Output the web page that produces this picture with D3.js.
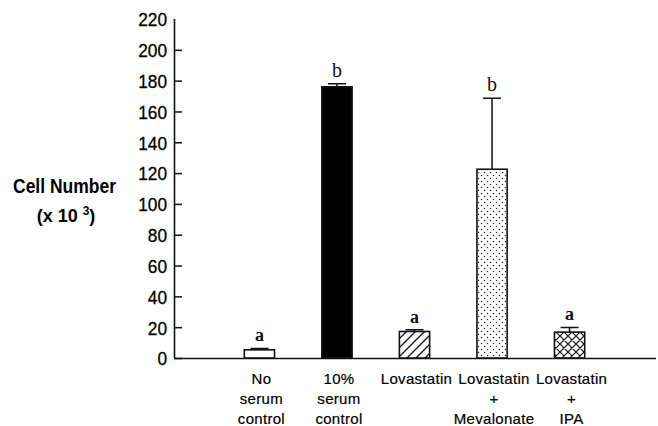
<!DOCTYPE html>
<html>
<head>
<meta charset="utf-8">
<script src="https://cdn.jsdelivr.net/npm/d3@7"></script>
<style>
  body { margin: 0; background: #fff; }
  svg { display: block; }
  .tick text { font-family: "Liberation Sans", Arial, sans-serif; font-size: 19px; fill: #000; stroke: #000; stroke-width: 0.3px; }
  .cat { font-family: "Liberation Sans", Arial, sans-serif; font-size: 15px; letter-spacing: 0.3px; fill: #000; stroke: #000; stroke-width: 0.2px; }
  .sig { font-family: "Liberation Serif", "Times New Roman", serif; fill: #111; }
  .ylab { font-family: "Liberation Sans", Arial, sans-serif; font-weight: bold; fill: #000; }
</style>
</head>
<body>
<div id="chart"></div>
<script>

// chart data
var categories = [
    ["No", "serum", "control"],
    ["10%", "serum", "control"],
    ["Lovastatin"],
    ["Lovastatin", "+", "Mevalonate"],
    ["Lovastatin", "+", "IPA"]
];
var values = [5.3, 176, 17.2, 122.5, 16.8];   // cell number x 10^3
var errors = [0.9, 2, 1.1, 46, 3];            // upper error bar
var letters = ["a", "b", "a", "b", "a"];
var fills = ["#fff", "#000", "url(#hatch)", "url(#dots)", "url(#cross)"];
var yticks = [0, 20, 40, 60, 80, 100, 120, 140, 160, 180, 200, 220];

// plot settings
var conf = {
    w: 658,
    h: 426,
    x0: 174, // left axis position
    x1: 656, // end of x axis
    y0: 358, // baseline
    y1: 19,  // top of y axis
    band: [197, 632],
    padding: 0.61,
    stroke: "#111"
};

var svg = d3.select("#chart").append("svg")
        .attr("width", conf.w).attr("height", conf.h);

// fill patterns
var defs = svg.append("defs");
var hatch = defs.append("pattern").attr("id", "hatch")
        .attr("patternUnits", "userSpaceOnUse")
        .attr("width", 9).attr("height", 9);
hatch.append("rect").attr("width", 9).attr("height", 9).attr("fill", "#fff");
hatch.append("path").attr("d", "M0,9L9,0M-2,2L2,-2M7,11L11,7")
        .attr("stroke", "#111").attr("stroke-width", 1.3);

var cross = defs.append("pattern").attr("id", "cross")
        .attr("patternUnits", "userSpaceOnUse")
        .attr("width", 8).attr("height", 8);
cross.append("rect").attr("width", 8).attr("height", 8).attr("fill", "#fff");
cross.append("path").attr("d", "M0,8L8,0M-2,2L2,-2M6,10L10,6M0,0L8,8M-2,6L2,10M6,-2L10,2")
        .attr("stroke", "#111").attr("stroke-width", 1.2);

var dots = defs.append("pattern").attr("id", "dots")
        .attr("patternUnits", "userSpaceOnUse")
        .attr("width", 6).attr("height", 6);
dots.append("rect").attr("width", 6).attr("height", 6).attr("fill", "#fff");
dots.append("circle").attr("cx", 1.5).attr("cy", 1.5).attr("r", 0.75).attr("fill", "#222");
dots.append("circle").attr("cx", 4.5).attr("cy", 4.5).attr("r", 0.75).attr("fill", "#222");

// scales
var idx = d3.range(values.length);
var xscale = d3.scaleBand().domain(idx).range(conf.band).padding(conf.padding);
var yscale = d3.scaleLinear().domain([0, 220]).range([conf.y0, conf.y1]);

// y axis, ticks pointing inwards
var yaxis = d3.axisRight(yscale).tickValues(yticks).tickSize(8).tickPadding(-15);
var gy = svg.append("g").attr("class", "yaxis")
        .attr("transform", "translate(" + conf.x0 + ",0)").call(yaxis);
gy.selectAll("text").attr("text-anchor", "end").attr("dy", "0.36em")
        .attr("textLength", function (d) { return String(d).length * 9.6; })
        .attr("lengthAdjust", "spacingAndGlyphs");
gy.selectAll(".tick line").attr("stroke", conf.stroke).attr("stroke-width", 1.5);
gy.selectAll(".tick").filter(function (d) { return d === 220; }).select("line").remove();
gy.select("path.domain").attr("d", "M0.5," + conf.y0 + "V" + conf.y1)
        .attr("stroke", conf.stroke).attr("stroke-width", 1.6);

// x axis line
svg.append("line")
        .attr("x1", conf.x0).attr("x2", conf.x1)
        .attr("y1", conf.y0 + 0.5).attr("y2", conf.y0 + 0.5)
        .attr("stroke", conf.stroke).attr("stroke-width", 1.6);

// error bars (upper half only)
var bw = xscale.bandwidth();
svg.selectAll(".err").data(idx).enter().append("path")
        .attr("class", "err")
        .attr("fill", "none").attr("stroke", conf.stroke).attr("stroke-width", 1.5)
        .attr("d", function (i) {
            var cx = xscale(i) + bw / 2;
            var yt = yscale(values[i] + errors[i]);
            return "M" + cx + "," + yscale(values[i]) + "V" + yt +
                    "M" + (cx - 9) + "," + yt + "H" + (cx + 9);
        });

// bars
svg.selectAll(".bar").data(idx).enter().append("rect")
        .attr("class", "bar")
        .attr("x", function (i) { return xscale(i); })
        .attr("width", bw)
        .attr("y", function (i) { return yscale(values[i]); })
        .attr("height", function (i) { return yscale(0) - yscale(values[i]); })
        .attr("fill", function (i) { return fills[i]; })
        .attr("stroke", conf.stroke).attr("stroke-width", 1.6);

// significance letters
svg.selectAll(".sig").data(idx).enter().append("text")
        .attr("class", "sig")
        .attr("text-anchor", "middle")
        .attr("font-size", function (i) { return letters[i] === "a" ? 18 : 20; })
        .attr("font-weight", function (i) { return letters[i] === "a" ? "bold" : "normal"; })
        .attr("x", function (i) { return xscale(i) + bw / 2; })
        .attr("y", function (i) { return yscale(values[i] + errors[i]) - 7; })
        .text(function (i) { return letters[i]; });

// category labels
var cats = svg.selectAll(".cat").data(idx).enter().append("text")
        .attr("class", "cat")
        .attr("text-anchor", "middle");
cats.selectAll("tspan").data(function (i) {
    return categories[i].map(function (s) { return {s: s, i: i}; });
}).enter().append("tspan")
        .attr("x", function (d) { return xscale(d.i) + bw / 2 + 2; })
        .attr("y", function (d, k) { return 384 + k * 20; })
        .text(function (d) { return d.s; });

// y label
svg.append("text").attr("class", "ylab")
        .attr("x", 13).attr("y", 193).attr("font-size", 20)
        .attr("textLength", 103).attr("lengthAdjust", "spacingAndGlyphs")
        .text("Cell Number");
var sub = svg.append("text").attr("class", "ylab")
        .attr("x", 66).attr("y", 222).attr("font-size", 18)
        .attr("text-anchor", "middle");
sub.append("tspan").text("(x 10 ");
sub.append("tspan").attr("font-size", 12).attr("dy", -7).text("3");
sub.append("tspan").attr("dy", 7).text(")");

</script>
</body>
</html>
